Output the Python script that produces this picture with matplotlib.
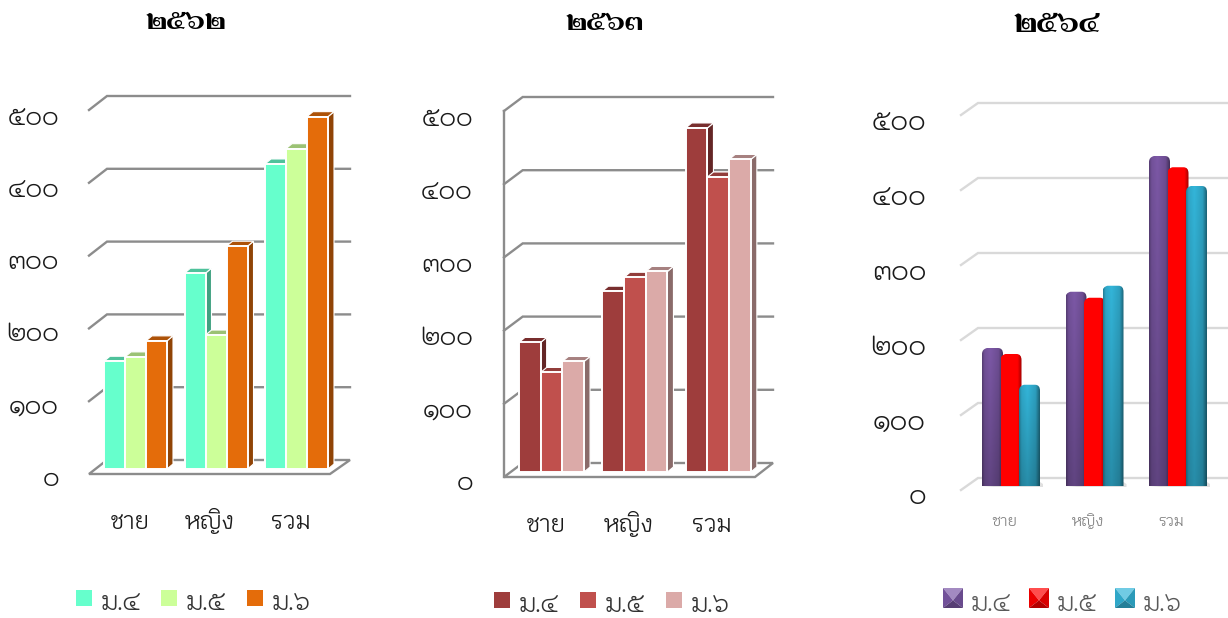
import numpy as np
import matplotlib
matplotlib.use("Agg")
import matplotlib.pyplot as plt
from matplotlib.patches import Polygon, Rectangle, PathPatch
from matplotlib.path import Path
from matplotlib.transforms import Affine2D
from matplotlib.colors import to_rgb

TITLE_FONT = ["Fahkwang", "Krub", "DejaVu Sans"]
DIGIT_FONT = ["Kodchasan", "Krub", "DejaVu Sans"]
WORD_FONT = ["Krub", "Kodchasan", "DejaVu Sans"]
plt.rcParams["font.family"] = DIGIT_FONT

W, H = 1228, 618

categories = ["ชาย", "หญิง", "รวม"]
series_names = ["ม.๔", "ม.๕", "ม.๖"]
tick_values = [0, 100, 200, 300, 400, 500]
tick_labels = ["๐", "๑๐๐", "๒๐๐", "๓๐๐", "๔๐๐", "๕๐๐"]

values_2562 = [[148, 269, 419], [154, 184, 440], [176, 306, 484]]
values_2563 = [[177, 247, 470], [136, 266, 403], [151, 274, 427]]
values_2564 = [[184, 259, 440], [176, 251, 425], [135, 267, 400]]

colors_2562 = ["#66FFCC", "#CCFF99", "#E46C0A"]
colors_2563 = ["#9E3D3C", "#C0504D", "#DBAAA8"]
colors_2564 = ["#7C58A6", "#FF0000", "#33B5D9"]


def shade(color, k):
    return tuple(min(1, c * k) for c in to_rgb(color))


def tint(color, k):
    return tuple(c + (1 - c) * k for c in to_rgb(color))


def make_axes(fig, first_center, spacing, y0, scale):
    left = first_center - 0.5 * spacing
    ax = fig.add_axes([left / W, 1 - y0 / H, 3 * spacing / W, 500 * scale / H])
    ax.set_xlim(-0.5, 2.5)
    ax.set_ylim(0, 500)
    ax.patch.set_alpha(0)
    for s in ax.spines.values():
        s.set_visible(False)
    ax.tick_params(length=0, pad=0)
    return ax, left


def set_labels(ax, left, y0, scale, label_right, label_y0, label_scale, size,
               cat_dx, cat_base, cat_size, cat_color):
    ax.set_yticks(tick_values, tick_labels, fontsize=size, color="#1a1a1a",
                  family=DIGIT_FONT, fontweight=300)
    for v, lab in zip(tick_values, ax.get_yticklabels()):
        dy = (label_y0 - v * label_scale) - (y0 - v * scale)
        lab.set_transform(lab.get_transform() + Affine2D().translate(label_right - left, -dy))
    ax.set_xticks([0, 1, 2], categories, fontsize=cat_size, color=cat_color, family=WORD_FONT)
    for lab in ax.get_xticklabels():
        # baseline so that the tall word does not sit lower than the others
        lab.set_verticalalignment("baseline")
        lab.set_transform(lab.get_transform() + Affine2D().translate(cat_dx, -(cat_base - y0)))


def draw_walls(ax, left, spacing, scale, front, back, right_front, right_back,
               off_front, off_back, grid_color, lw, wall=False, floor=True):
    def px(x):
        return (x - left) / spacing - 0.5

    for v in tick_values[1:] if floor else tick_values:
        ax.plot([px(front), px(back), px(right_back)],
                [v + off_front / scale, v + off_back / scale, v + off_back / scale],
                color=grid_color, lw=lw, clip_on=False, zorder=1, solid_joinstyle="miter")
    if floor:
        pts = [(px(front), off_front / scale), (px(back), off_back / scale),
               (px(right_back), off_back / scale), (px(right_front), off_front / scale)]
        ax.add_patch(Polygon(pts, closed=True, fc="white", ec=grid_color, lw=lw,
                             clip_on=False, zorder=1))
    if wall:
        ax.plot([px(front), px(front)],
                [off_front / scale, 500 + off_front / scale],
                color=grid_color, lw=lw, clip_on=False, zorder=1)


def draw_box_bars(ax, values, colors, spacing, scale, bar_w):
    # plain 3d boxes, side and top faces come from the same bar values
    ddx, ddy = 6 / spacing, 5 / scale
    w = bar_w / spacing
    for g in range(3):
        for i in range(3):
            x = g + (i - 1) * w
            v = values[i][g]
            xl, xr = x - w / 2, x + w / 2
            ax.add_patch(Polygon([(xr, 0), (xr + ddx, ddy), (xr + ddx, v + ddy), (xr, v)],
                                 fc=shade(colors[i], 0.63), ec="white", lw=0.8, clip_on=False, zorder=3))
            ax.add_patch(Polygon([(xl, v), (xl + ddx, v + ddy), (xr + ddx, v + ddy), (xr, v)],
                                 fc=shade(colors[i], 0.76), ec="white", lw=0.8, clip_on=False, zorder=3))
            ax.bar(x, v, width=w, color=colors[i], edgecolor="white", linewidth=1.4,
                   clip_on=False, zorder=3)


def draw_round_bars(ax, values, colors, spacing, scale, step, bar_w):
    w = bar_w / spacing
    st = step / spacing
    r = 6 / scale
    for g in range(3):
        # soft shadow under the group
        xl = g - st - w / 2
        xr = g + st + w / 2
        ax.add_patch(Polygon([(xl, -1 / scale), (xr + 3 / spacing, -1 / scale), (xr + 3 / spacing, 2 / scale), (xr, 4 / scale)],
                             fc="#999999", ec="none", alpha=0.3, clip_on=False, zorder=2))
        for i in range(3):
            x = g + (i - 1) * st
            v = values[i][g]
            x0, x1 = x - w / 2, x + w / 2
            rx = 5 / spacing
            verts = [(x0, 0), (x0, v - r), (x0, v - r * 0.2), (x0 + rx, v), (x1 - rx, v),
                     (x1, v), (x1, v - r), (x1, 0), (x0, 0)]
            codes = [Path.MOVETO, Path.LINETO, Path.CURVE3, Path.CURVE3, Path.LINETO,
                     Path.CURVE3, Path.CURVE3, Path.LINETO, Path.CLOSEPOLY]
            clip = PathPatch(Path(verts, codes), transform=ax.transData, fc="none", ec="none")
            ax.add_patch(clip)
            u = np.linspace(0, 1, 40)
            across = np.interp(u, [0, 0.12, 0.4, 0.8, 1], [0.7, 0.92, 1.0, 0.88, 0.55])
            if colors[i] == "#FF0000":
                across = np.interp(u, [0, 0.8, 1], [1, 1, 0.62])
                down = np.ones(60)
            else:
                down = np.linspace(1.0, 0.78, 60)
            rgb = np.array(to_rgb(colors[i]))
            img = (down[:, None, None] * across[None, :, None]) * rgb
            im = ax.imshow(img, extent=(x0, x1, 0, v), origin="upper", aspect="auto",
                           zorder=3 + 0.1 * i, clip_on=True)
            im.set_clip_path(clip)


def draw_title(over, text, x, y, size=20):
    over.text(x, y, text, ha="center", va="center", fontsize=size, fontweight="bold",
              color="black", family=TITLE_FONT)


def draw_legend(over, xs, y, size, text_dx, text_y, colors, bevel, text_color, fs):
    for x, c, name in zip(xs, colors, series_names):
        if bevel:
            cx, cy = x + size / 2, y + size * 0.62
            over.add_patch(Polygon([(x, y), (x + size, y), (cx, cy)], fc=tint(c, 0.3), ec="none"))
            over.add_patch(Polygon([(x, y), (cx, cy), (x, y + size)], fc=shade(c, 0.92), ec="none"))
            over.add_patch(Polygon([(x + size, y), (cx, cy), (x + size, y + size)], fc=shade(c, 0.85), ec="none"))
            over.add_patch(Polygon([(x, y + size), (cx, cy), (x + size, y + size)], fc=shade(c, 0.7), ec="none"))
        else:
            over.add_patch(Rectangle((x, y), size, size, fc=c, ec="none"))
        over.text(x + text_dx, text_y, name, fontsize=fs, color=text_color, ha="left",
                  va="baseline", fontweight=300)


fig = plt.figure(figsize=(W / 100, H / 100), dpi=100)
over = fig.add_axes([0, 0, 1, 1])
over.set_xlim(0, W)
over.set_ylim(H, 0)
over.axis("off")
over.patch.set_alpha(0)

# 2562
ax, left = make_axes(fig, 135.5, 80.5, 469, 0.728)
draw_walls(ax, left, 80.5, 0.728, 89, 107, 330, 350, -5, 9, "#8C8C8C", 1.7)
draw_box_bars(ax, values_2562, colors_2562, 80.5, 0.728, 21)
set_labels(ax, left, 469, 0.728, 59, 476, 0.7226, 18, -6, 529, 17, "#1a1a1a")

# 2563
ax, left = make_axes(fig, 551.5, 83.4, 472, 0.732)
draw_walls(ax, left, 83.4, 0.732, 504, 522.7, 755, 773, -5, 9, "#8C8C8C", 1.7, wall=True)
draw_box_bars(ax, values_2563, colors_2563, 83.4, 0.732, 21.7)
set_labels(ax, left, 472, 0.732, 473, 480.5, 0.7288, 18, -6, 532, 17, "#1a1a1a")

# 2564
ax, left = make_axes(fig, 1011, 83.5, 486, 0.75)
draw_walls(ax, left, 83.5, 0.75, 961, 978, 1240, 1240, -4, 8, "#D9D9D9", 1.7, floor=False)
draw_round_bars(ax, values_2564, colors_2564, 83.5, 0.75, 18.5, 21)
ax.set_xlim(-0.5, 2.5)
ax.set_ylim(0, 500)
set_labels(ax, left, 486, 0.75, 926, 494.5, 0.748, 19, -7, 526, 11, "#808080")

draw_title(over, "๒๕๖๒", 186, 22)
draw_title(over, "๒๕๖๓", 605, 23)
draw_title(over, "๒๕๖๔", 1057, 25, 22)

draw_legend(over, [76, 161, 247], 590, 16, 25, 610, colors_2562, False, "#333333", 18)
draw_legend(over, [494, 580, 666], 592, 16, 25, 612, colors_2563, False, "#333333", 18)
draw_legend(over, [943, 1029, 1115], 588, 20, 28, 611, colors_2564, True, "#595959", 18)

fig.savefig("out.png", dpi=100)
